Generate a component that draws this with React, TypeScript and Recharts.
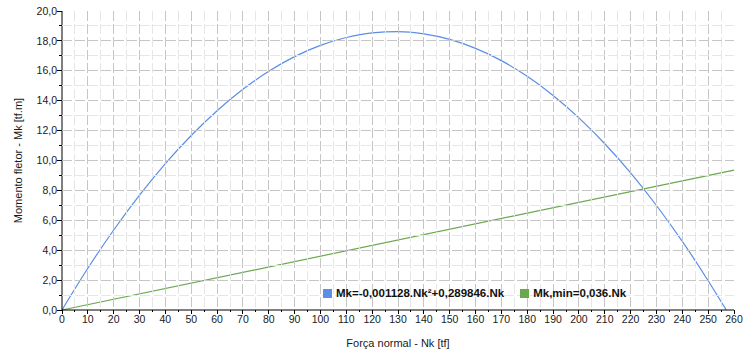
import { LineChart, Line, XAxis, YAxis } from 'recharts'

// Nk [tf] sampled along the curve
const nkCurve = [0, 10, 20, 30, 40, 50, 60, 70, 80, 90, 100, 110, 120, 130, 140, 150, 160, 170, 180, 190, 200, 210, 220, 230, 240, 250, 257]
// Mk [tf.m]
const mkCurve = [0, 2.79, 5.35, 7.68, 9.79, 11.67, 13.33, 14.76, 15.97, 16.95, 17.7, 18.23, 18.54, 18.62, 18.47, 18.1, 17.5, 16.68, 15.63, 14.35, 12.85, 11.12, 9.17, 6.99, 4.59, 1.96, 0]

// green line end points
const nkMin = [0, 260]
const mkMin = [0, 9.36]

const xTicks = Array.from({ length: 53 }, (_, i) => i * 5)
const yTicks = Array.from({ length: 21 }, (_, i) => i)

const curveLabel = 'Mk=-0,001128.Nk²+0,289846.Nk'
const minLabel = 'Mk,min=0,036.Nk'

const curveData = nkCurve.map((x, i) => ({ x, y: mkCurve[i] }))
const minData = nkMin.map((x, i) => ({ x, y: mkMin[i] }))

const BLUE = '#5b8ee6'
const GREEN = '#6aa84f'
const FONT = '"Liberation Sans", Arial, sans-serif'
const W = 755
const H = 360
const MARGIN = { top: 11, right: 21, left: 0, bottom: 0 }
const Y_AXIS_W = 62
const X_AXIS_H = 50
const PLOT_W = W - Y_AXIS_W - MARGIN.right
const PLOT_H = H - MARGIN.top - X_AXIS_H

const MAJOR_GRID = '#c6c6c6'
const MINOR_GRID = '#e6e6e6'

// eslint-disable-next-line @typescript-eslint/no-explicit-any
function XTick({ x, y, payload }: any) {
  const v = payload.value
  const major = v % 10 === 0
  const edge = v === 0 || v === 260
  return (
    <g>
      {!edge && (
        <line
          x1={x}
          x2={x}
          y1={y - PLOT_H}
          y2={y}
          stroke={major ? MAJOR_GRID : MINOR_GRID}
          strokeDasharray="10 3"
          shapeRendering="crispEdges"
        />
      )}
      <line x1={x} x2={x} y1={y} y2={y + (major ? 4 : 2)} stroke="#000" shapeRendering="crispEdges" />
      {major && (
        <text x={x} y={y + 13} textAnchor="middle" fontSize={10.5} fill="#1a1a1a" fontFamily={FONT}>
          {v}
        </text>
      )}
    </g>
  )
}

// eslint-disable-next-line @typescript-eslint/no-explicit-any
function YTick({ x, y, payload }: any) {
  const v = payload.value
  const major = v % 2 === 0
  const edge = v === 0 || v === 20
  return (
    <g>
      {!edge && (
        <line
          x1={x}
          x2={x + PLOT_W}
          y1={y}
          y2={y}
          stroke={major ? MAJOR_GRID : MINOR_GRID}
          strokeDasharray="10 3"
          shapeRendering="crispEdges"
        />
      )}
      <line x1={x} x2={x - (major ? 5 : 3)} y1={y} y2={y} stroke="#000" shapeRendering="crispEdges" />
      {major && (
        <text x={x - 5} y={y} dy="0.35em" textAnchor="end" fontSize={10.5} fill="#1a1a1a" fontFamily={FONT}>
          {v.toFixed(1).replace('.', ',')}
        </text>
      )}
    </g>
  )
}

function LegendBox() {
  const item = (color: string, label: string) => (
    <span style={{ display: 'flex', alignItems: 'center', gap: 4 }}>
      <span style={{ width: 9, height: 9, background: color, display: 'inline-block' }} />
      <span>{label}</span>
    </span>
  )
  return (
    <div
      style={{
        position: 'absolute',
        left: 323,
        top: 286,
        display: 'flex',
        gap: 16,
        fontFamily: FONT,
        fontSize: 11.5,
        fontWeight: 'bold',
        color: '#111',
        lineHeight: '14px',
      }}
    >
      {item(BLUE, curveLabel)}
      {item(GREEN, minLabel)}
    </div>
  )
}

export default function App() {
  return (
    <div style={{ position: 'absolute', left: 0, top: 0, width: W, height: H, background: '#fff' }}>
      <LineChart width={W} height={H} margin={MARGIN}>
        <XAxis
          type="number"
          dataKey="x"
          domain={[0, 260]}
          ticks={xTicks}
          interval={0}
          height={X_AXIS_H}
          tickSize={0}
          tickMargin={0}
          tickLine={false}
          stroke="#000"
          tick={<XTick />}
          label={{ value: 'Força normal - Nk [tf]', position: 'insideBottom', offset: 13, fontSize: 11, fill: '#1a1a1a', fontFamily: FONT }}
        />
        <YAxis
          type="number"
          domain={[0, 20]}
          ticks={yTicks}
          interval={0}
          width={Y_AXIS_W}
          tickSize={0}
          tickMargin={0}
          tickLine={false}
          stroke="#000"
          tick={<YTick />}
          label={{ value: 'Momento fletor - Mk [tf.m]', angle: -90, position: 'insideLeft', offset: 18, fontSize: 11, fill: '#1a1a1a', fontFamily: FONT, style: { textAnchor: 'middle' } }}
        />
        <XAxis xAxisId="top" orientation="top" type="number" domain={[0, 260]} height={0} tick={false} tickLine={false} stroke="#999" />
        <YAxis yAxisId="right" orientation="right" type="number" domain={[0, 20]} width={0} tick={false} tickLine={false} stroke="#999" />
        <Line
          data={curveData}
          dataKey="y"
          type="monotone"
          stroke={BLUE}
          strokeWidth={1.2}
          dot={false}
          name={curveLabel}
          isAnimationActive={false}
        />
        <Line
          data={minData}
          dataKey="y"
          type="linear"
          stroke={GREEN}
          strokeWidth={1.2}
          dot={false}
          name={minLabel}
          isAnimationActive={false}
        />
      </LineChart>
      <LegendBox />
    </div>
  )
}
